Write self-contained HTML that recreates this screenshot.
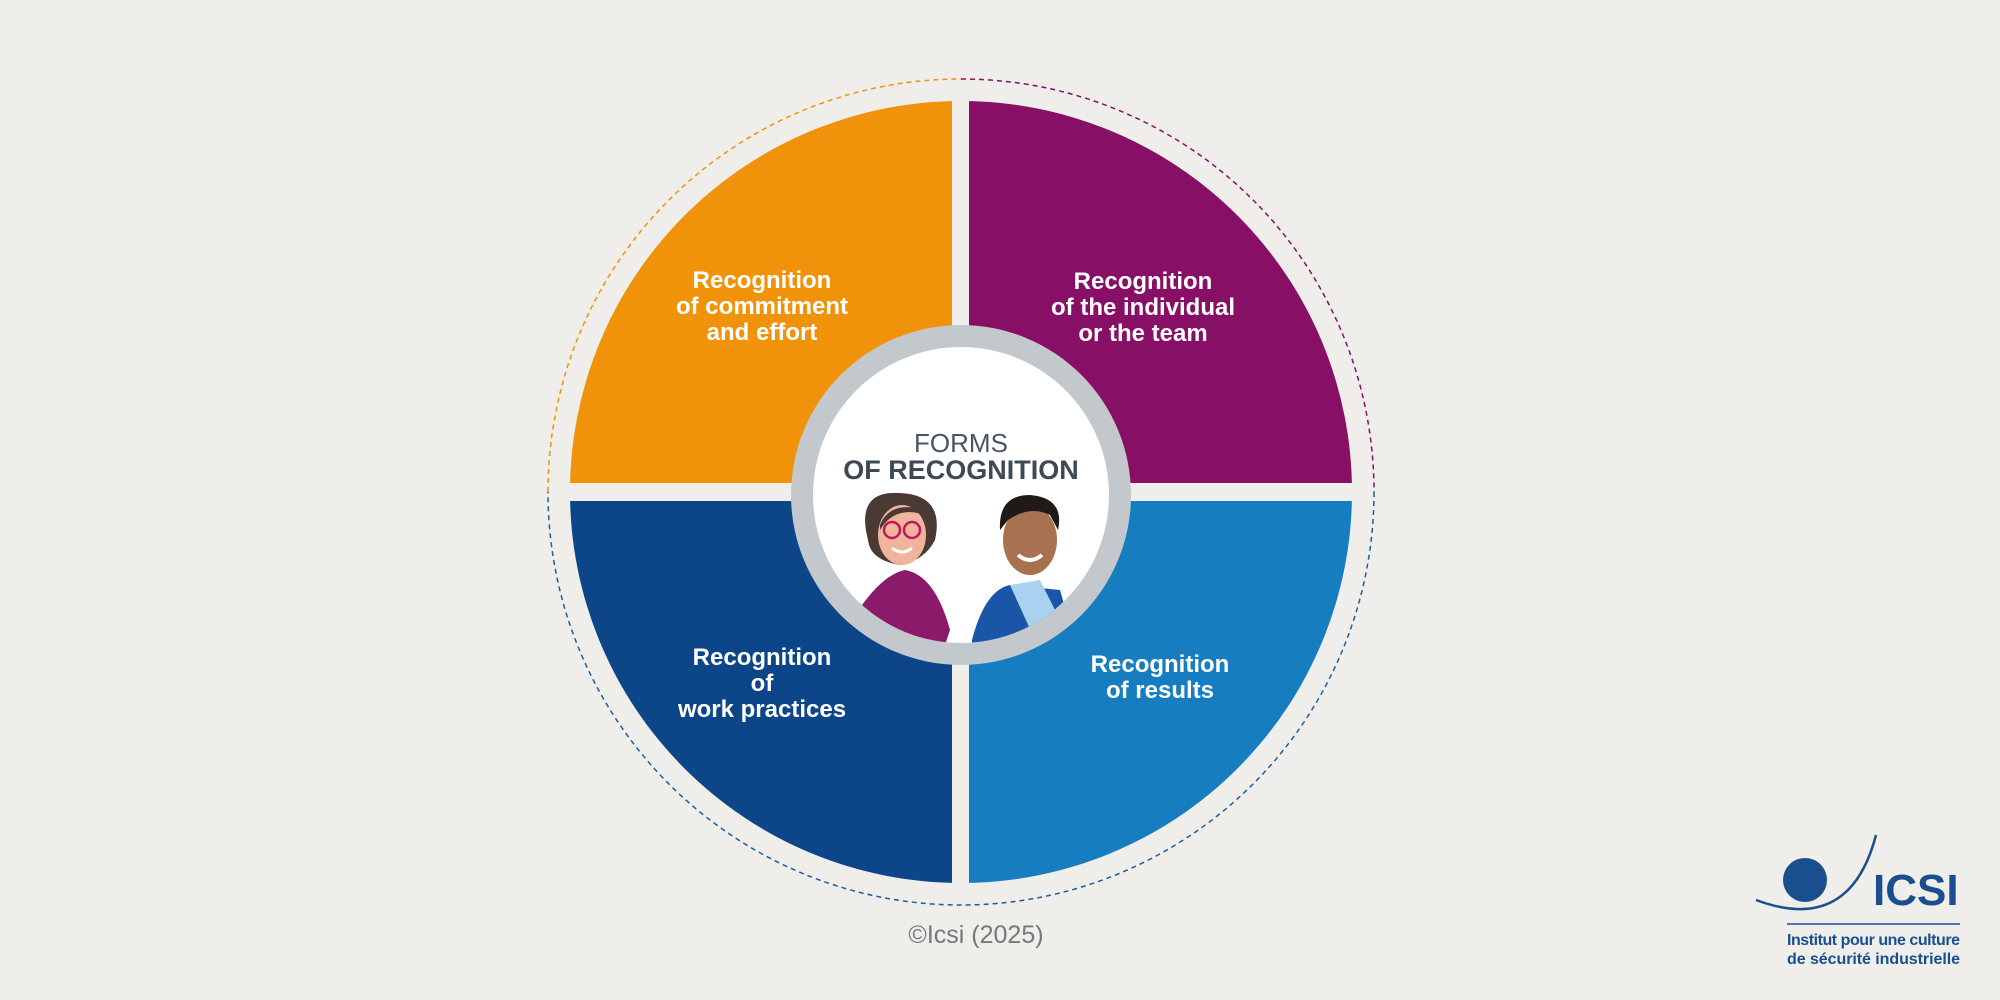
<!DOCTYPE html>
<html><head><meta charset="utf-8"><style>
body{margin:0;width:2000px;height:1000px;background:#efeeeb;overflow:hidden;font-family:"Liberation Sans",sans-serif}
</style></head><body>
<svg width="2000" height="1000" viewBox="0 0 2000 1000" style="position:absolute;left:0;top:0">
<defs><clipPath id="cc"><circle cx="961" cy="495" r="148"/></clipPath></defs>
<g fill="none" stroke-width="1.5" stroke-dasharray="5 4">
<path d="M548 492 A413 413 0 0 1 961 79" stroke="#f0930a"/>
<path d="M961 79 A413 413 0 0 1 1374 492" stroke="#870f65"/>
<path d="M1374 492 A413 413 0 0 1 548 492" stroke="#1a5ea8"/>
</g>
<path d="M961 492 L570 492 A391 391 0 0 1 961 101Z" fill="#f0930a"/>
<path d="M961 492 L961 101 A391 391 0 0 1 1352 492Z" fill="#870f65"/>
<path d="M961 492 L1352 492 A391 391 0 0 1 961 883Z" fill="#157dc0"/>
<path d="M961 492 L961 883 A391 391 0 0 1 570 492Z" fill="#0c4689"/>
<rect x="952" y="90" width="17" height="810" fill="#efeeeb"/>
<rect x="560" y="483" width="810" height="18" fill="#efeeeb"/>
<circle cx="961" cy="495" r="170" fill="#c3c8cc"/>
<circle cx="961" cy="495" r="148" fill="#fff"/>
<g clip-path="url(#cc)">
<path d="M852 620 Q880 575 905 570 Q935 575 950 630 L940 660 L850 660Z" fill="#8b1a6b"/>
<path d="M868 540 Q855 490 900 493 Q945 495 935 540 Q925 560 900 565 Q870 560 868 540Z" fill="#4b3a33"/>
<ellipse cx="902" cy="535" rx="24" ry="30" fill="#f0b49c"/>
<path d="M880 525 Q890 500 925 510 L925 515 Q895 505 880 530Z" fill="#4b3a33"/>
<circle cx="892" cy="530" r="8" fill="none" stroke="#c2185b" stroke-width="2.5"/>
<circle cx="912" cy="530" r="8" fill="none" stroke="#c2185b" stroke-width="2.5"/>
<path d="M892 548 Q902 556 912 548" stroke="#fff" stroke-width="3" fill="none"/>
<path d="M972 640 Q985 590 1010 585 L1060 590 L1080 660 L972 660Z" fill="#1a56a8"/>
<path d="M1010 585 L1040 580 L1060 620 L1035 640Z" fill="#a8d2ef"/>
<ellipse cx="1030" cy="540" rx="27" ry="35" fill="#a8714f"/>
<path d="M1000 530 Q998 495 1030 495 Q1065 498 1058 530 L1050 515 Q1030 505 1008 520Z" fill="#1f1a18"/>
<path d="M1018 555 Q1030 565 1042 555" stroke="#fff" stroke-width="4" fill="none"/>
</g>
</svg>
<div style="position:absolute;left:0;top:0;width:2000px;height:1000px;color:#fff;font-weight:bold;font-size:24px;line-height:26px;text-align:center">
<div style="position:absolute;left:612px;width:300px;top:268px">Recognition<br>of commitment<br>and effort</div>
<div style="position:absolute;left:993px;width:300px;top:269px">Recognition<br>of the individual<br>or the team</div>
<div style="position:absolute;left:612px;width:300px;top:645px">Recognition<br>of<br>work practices</div>
<div style="position:absolute;left:1010px;width:300px;top:652px">Recognition<br>of results</div>
<div style="position:absolute;left:811px;width:300px;top:428px;color:#4a5560;font-weight:normal;font-size:26px;line-height:30px">FORMS</div>
<div style="position:absolute;left:811px;width:300px;top:455px;color:#3d4a55;font-size:27px;line-height:30px">OF RECOGNITION</div>
<div style="position:absolute;left:826px;width:300px;top:922px;color:#777;font-weight:normal;font-size:25px">©Icsi (2025)</div>
</div>
<svg width="2000" height="1000" style="position:absolute;left:0;top:0">
<circle cx="1805" cy="880" r="22" fill="#1a4f8f"/>
<path d="M1756 900 Q1850 935 1876 835" stroke="#1a4f8f" stroke-width="2.5" fill="none"/>
<text x="1873" y="905" font-family="Liberation Sans" font-weight="bold" font-size="44" fill="#1a4f8f">ICSI</text>
<line x1="1787" y1="924" x2="1960" y2="924" stroke="#1a4f8f" stroke-width="1.5"/>
<text x="1787" y="945" font-family="Liberation Sans Narrow, Liberation Sans" font-weight="bold" font-size="16" fill="#1a4f8f" textLength="173">Institut pour une culture</text>
<text x="1787" y="964" font-family="Liberation Sans Narrow, Liberation Sans" font-weight="bold" font-size="16" fill="#1a4f8f" textLength="173">de sécurité industrielle</text>
</svg>
</body></html>
